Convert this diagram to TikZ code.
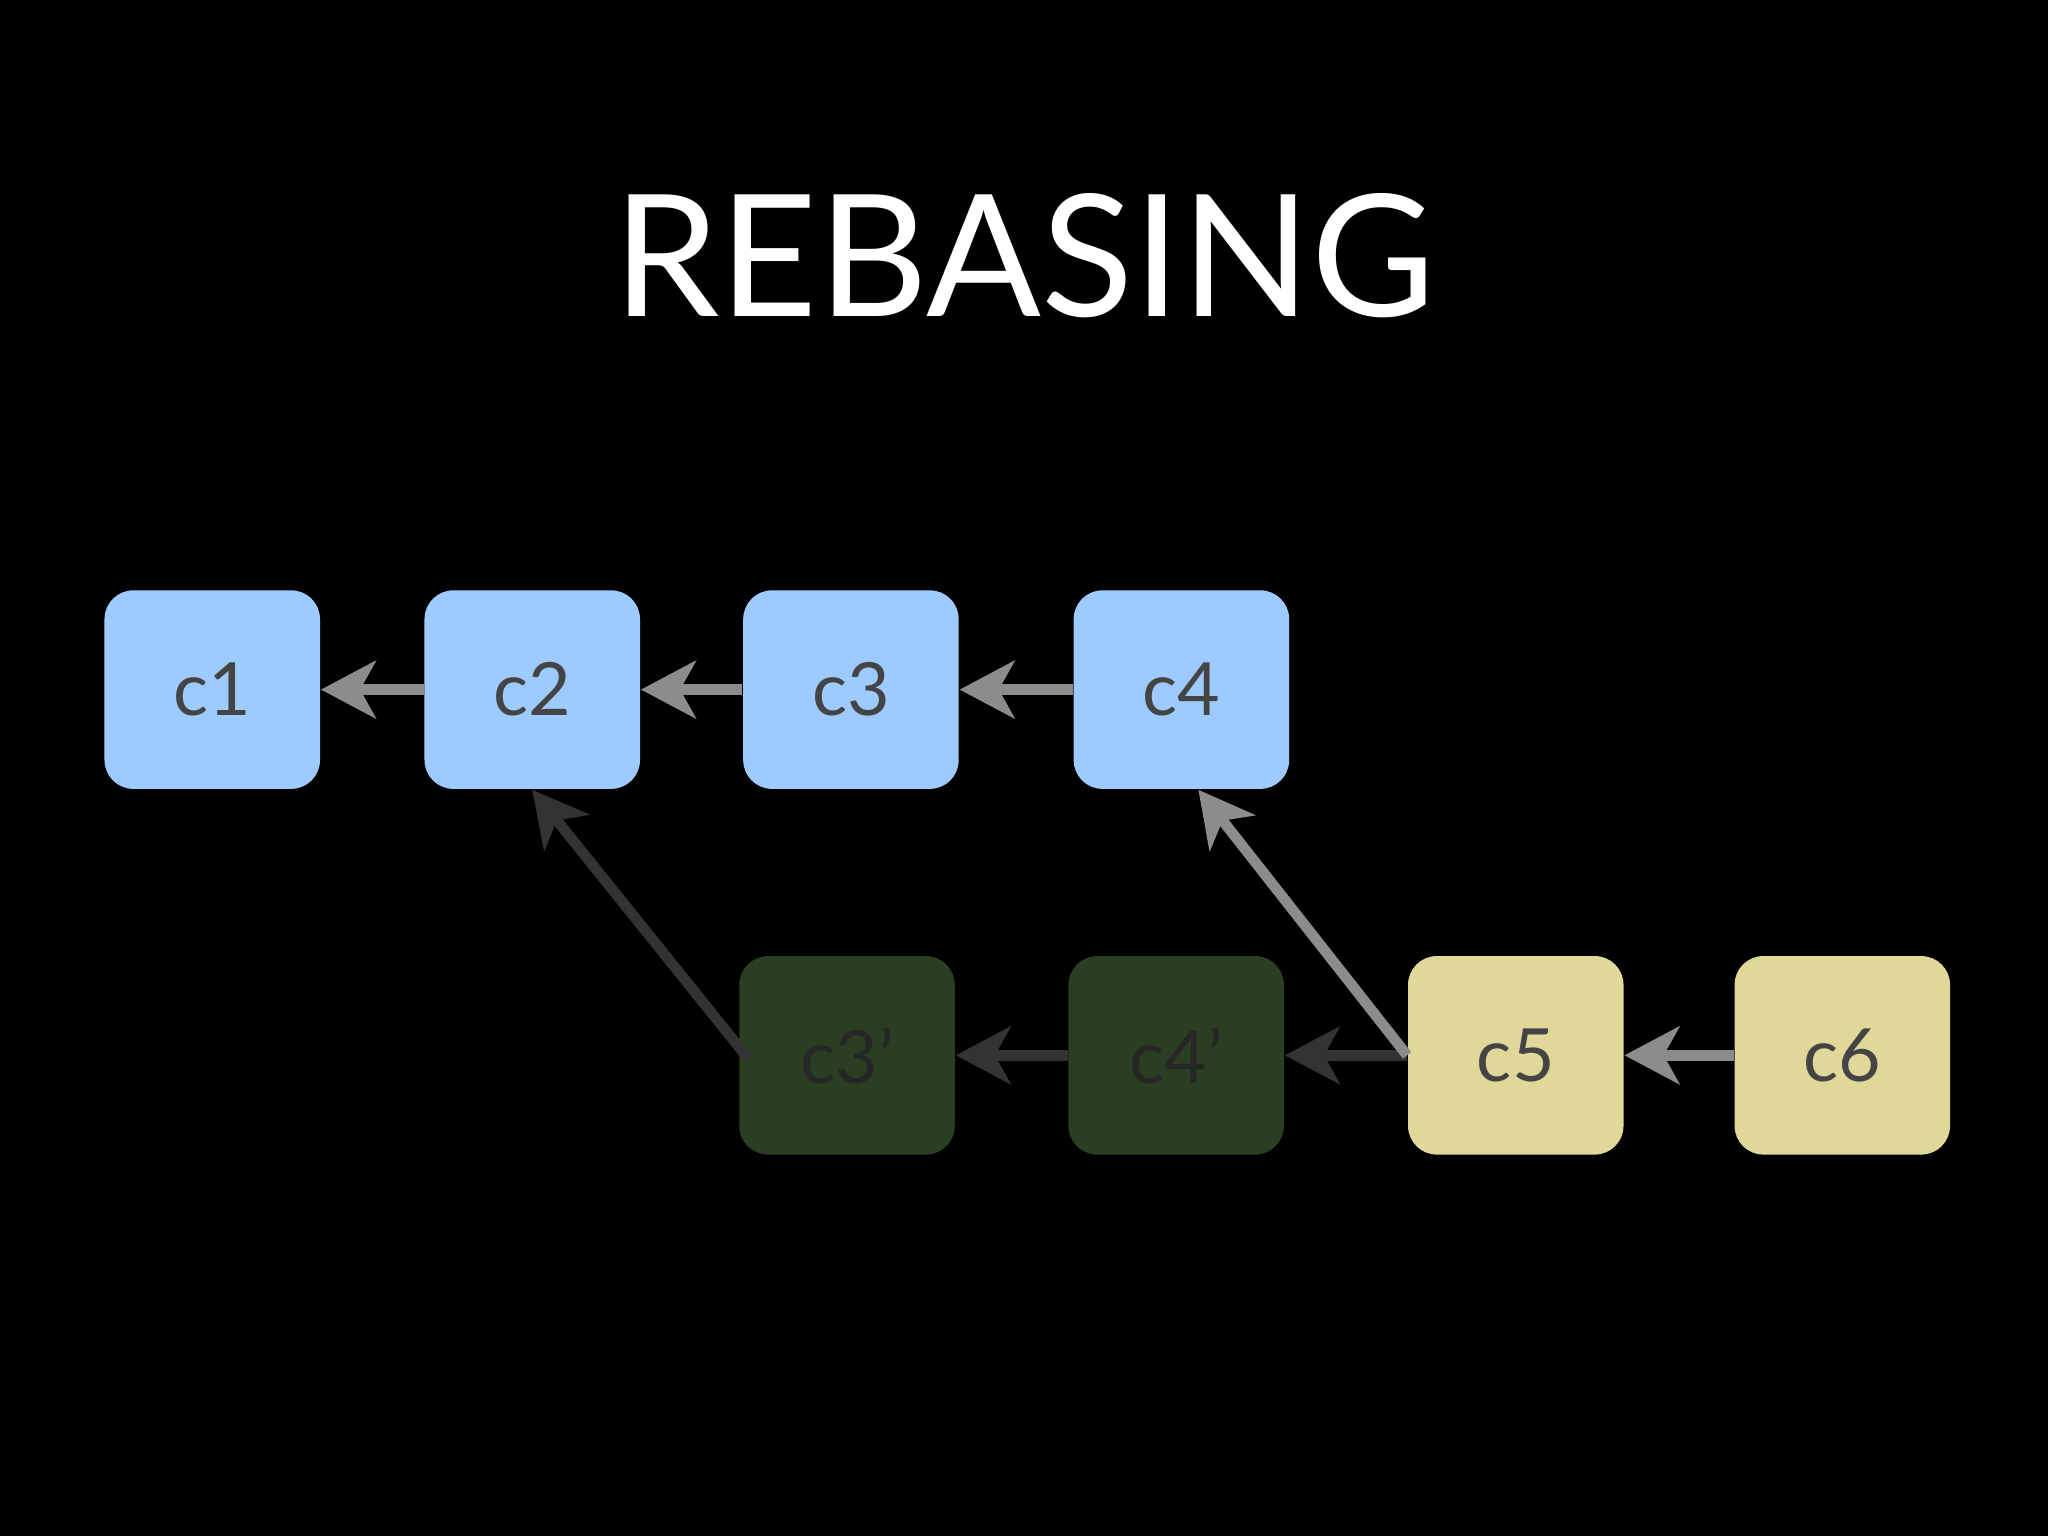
\documentclass[tikz,border=0pt]{standalone}
\usepackage{fontspec}
\setmainfont{Lato}
\usetikzlibrary{arrows.meta}
\definecolor{bluebox}{HTML}{9DCBFF}
\definecolor{yelbox}{HTML}{E0D898}
\definecolor{grnbox}{HTML}{2A3F22}
\definecolor{txt}{HTML}{444444}
\begin{document}
\begin{tikzpicture}[
  box/.style={rectangle,rounded corners=0.22cm,minimum width=1.65cm,minimum height=1.52cm,
    inner sep=0pt,font=\fontsize{16}{18}\selectfont,text=txt},
  blue/.style={box,fill=bluebox},
  yel/.style={box,fill=yelbox},
  grn/.style={box,fill=grnbox,text=black!85},
  arr/.style={line width=2.3pt,-{Stealth[length=0.42cm,width=0.44cm,inset=0.12cm]}},
  lite/.style={arr,draw=black!45!white},
  dark/.style={arr,draw=black!80!white}]
\fill[black] (0,0) rectangle (15.68,11.76);
\useasboundingbox (0,0) rectangle (15.68,11.76);
\node[text=white,font=\fontsize{37}{40}\selectfont] (title) at (7.84,9.8) {REBASING};
\node[blue] (c1) at (1.625,6.48) {c1};
\node[blue] (c2) at (4.075,6.48) {c2};
\node[blue] (c3) at (6.515,6.48) {c3};
\node[blue] (c4) at (9.045,6.48) {c4};
\node[grn] (c3p) at (6.485,3.68) {c3’};
\node[grn] (c4p) at (9.005,3.68) {c4’};
\node[yel] (c5) at (11.605,3.68) {c5};
\node[yel] (c6) at (14.105,3.68) {c6};
\draw[lite] (c2) -- (c1);
\draw[lite] (c3) -- (c2);
\draw[lite] (c4) -- (c3);
\draw[lite] (c6) -- (c5);
\draw[dark] (c4p) -- (c3p);
\draw[dark] (c5) -- (c4p);
\draw[dark] ([xshift=0.08cm,yshift=-0.03cm]c3p.west) -- (c2.south);
\draw[lite] (c5.west) -- ([xshift=0.13cm]c4.south);
\end{tikzpicture}
\end{document}
